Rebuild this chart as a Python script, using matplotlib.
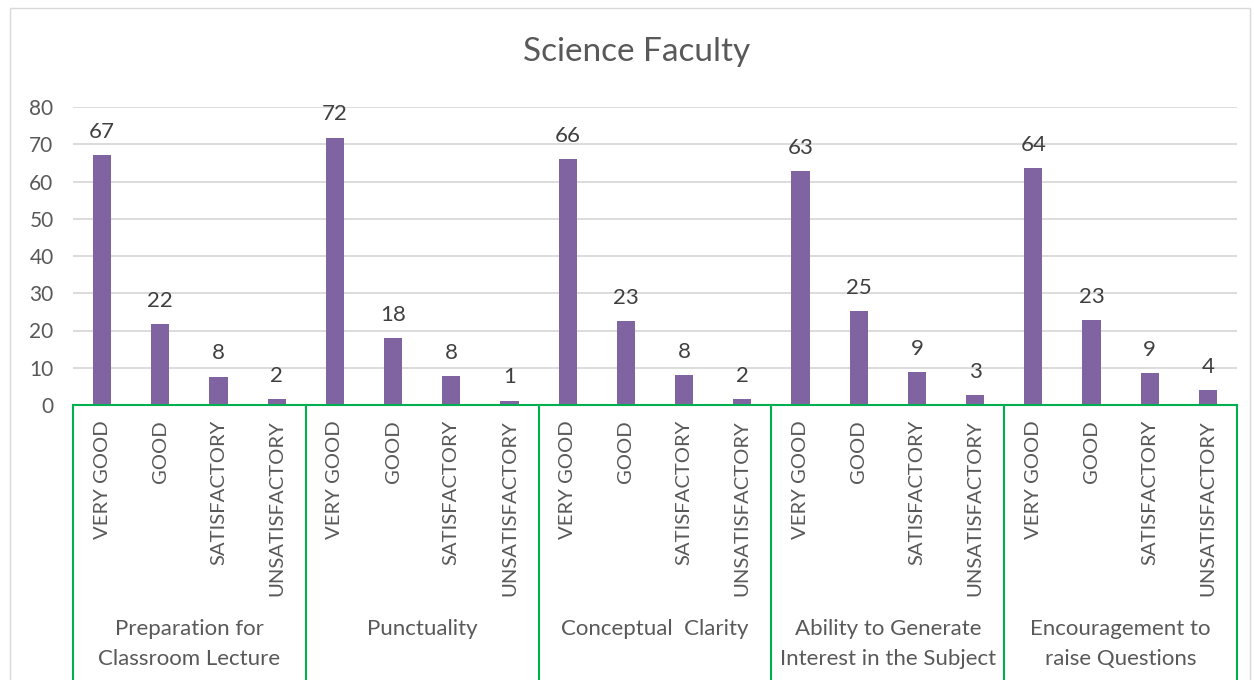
import matplotlib
matplotlib.use("Agg")
import matplotlib.pyplot as plt
from matplotlib.patches import Rectangle
from matplotlib.lines import Line2D

plt.rcParams['font.family'] = ['Lato', 'DejaVu Sans']

title = "Science Faculty"
groups = ["Preparation for\nClassroom Lecture", "Punctuality", "Conceptual  Clarity",
          "Ability to Generate\nInterest in the Subject", "Encouragement to\nraise Questions"]
ratings = ["VERY GOOD", "GOOD", "SATISFACTORY", "UNSATISFACTORY"]
values = [
    [67.0, 21.8, 7.6, 1.6],
    [71.8, 17.9, 7.7, 1.2],
    [66.1, 22.6, 8.1, 1.5],
    [62.9, 25.3, 8.9, 2.6],
    [63.7, 22.7, 8.6, 4.0],
]
yticks = [0, 10, 20, 30, 40, 50, 60, 70, 80]

W, H = 1254, 680
fig = plt.figure(figsize=(W / 100, H / 100), dpi=100)
fig.patch.set_facecolor("white")
# outer chart frame
fig.add_artist(Rectangle((10 / W, -0.1), (1250 - 10) / W, 1.1 - 8 / H, transform=fig.transFigure,
                         fill=False, edgecolor="#D9D9D9", linewidth=1))

left, right, bottom, top = 73, 1237, 405, 107
ax = fig.add_axes([left / W, 1 - bottom / H, (right - left) / W, (bottom - top) / H])

bar_color = "#8064A2"
text_gray = "#595959"
green = "#00B050"

n_r = len(ratings)
xs, hs = [], []
for gi, vals in enumerate(values):
    for ri, v in enumerate(vals):
        xs.append(gi * n_r + ri)
        hs.append(v)

bars = ax.bar(xs, hs, width=0.31, color=bar_color, zorder=3)
for x, h in zip(xs, hs):
    ax.annotate(f"{round(h):d}", (x, h), xytext=(0, 9.5), textcoords="offset points",
                ha="center", va="bottom", fontsize=16, color="#404040")

ax.set_xlim(-0.5, len(xs) - 0.5)
ax.set_ylim(0, 80)
ax.set_yticks(yticks)
ax.set_yticklabels([str(t) for t in yticks], fontsize=15, color=text_gray)
ax.tick_params(axis="y", length=0, pad=14)
ax.set_xticks([])
ax.grid(axis="y", color="#D9D9D9", linewidth=1.3, zorder=0)
for s in ["left", "right", "top"]:
    ax.spines[s].set_visible(False)
ax.spines["bottom"].set_color(green)
ax.spines["bottom"].set_linewidth(1.5)
ax.spines["bottom"].set_zorder(4)

trans = ax.get_xaxis_transform()
axh = bottom - top
ybot = -(H - bottom + 5) / axh
for gi in range(len(groups) + 1):
    xb = gi * n_r - 0.5
    ax.add_line(Line2D([xb, xb], [0, ybot], transform=trans, color=green,
                       linewidth=1.5, clip_on=False))

for x, (gi, ri) in zip(xs, [(g, r) for g in range(len(groups)) for r in range(n_r)]):
    ax.text(x, -(420 - bottom) / axh, ratings[ri], transform=trans, rotation=90,
            ha="center", va="top", fontsize=14.6, color=text_gray)

for gi, g in enumerate(groups):
    xc = gi * n_r + (n_r - 1) / 2
    ax.text(xc, -(619 - bottom) / axh, g, transform=trans, ha="center", va="top",
            fontsize=16, color=text_gray, linespacing=1.6)

fig.text(637 / W, 1 - 52 / H, title, ha="center", va="center",
         fontsize=24, color=text_gray)

fig.savefig("out.png", dpi=100, facecolor="white")
